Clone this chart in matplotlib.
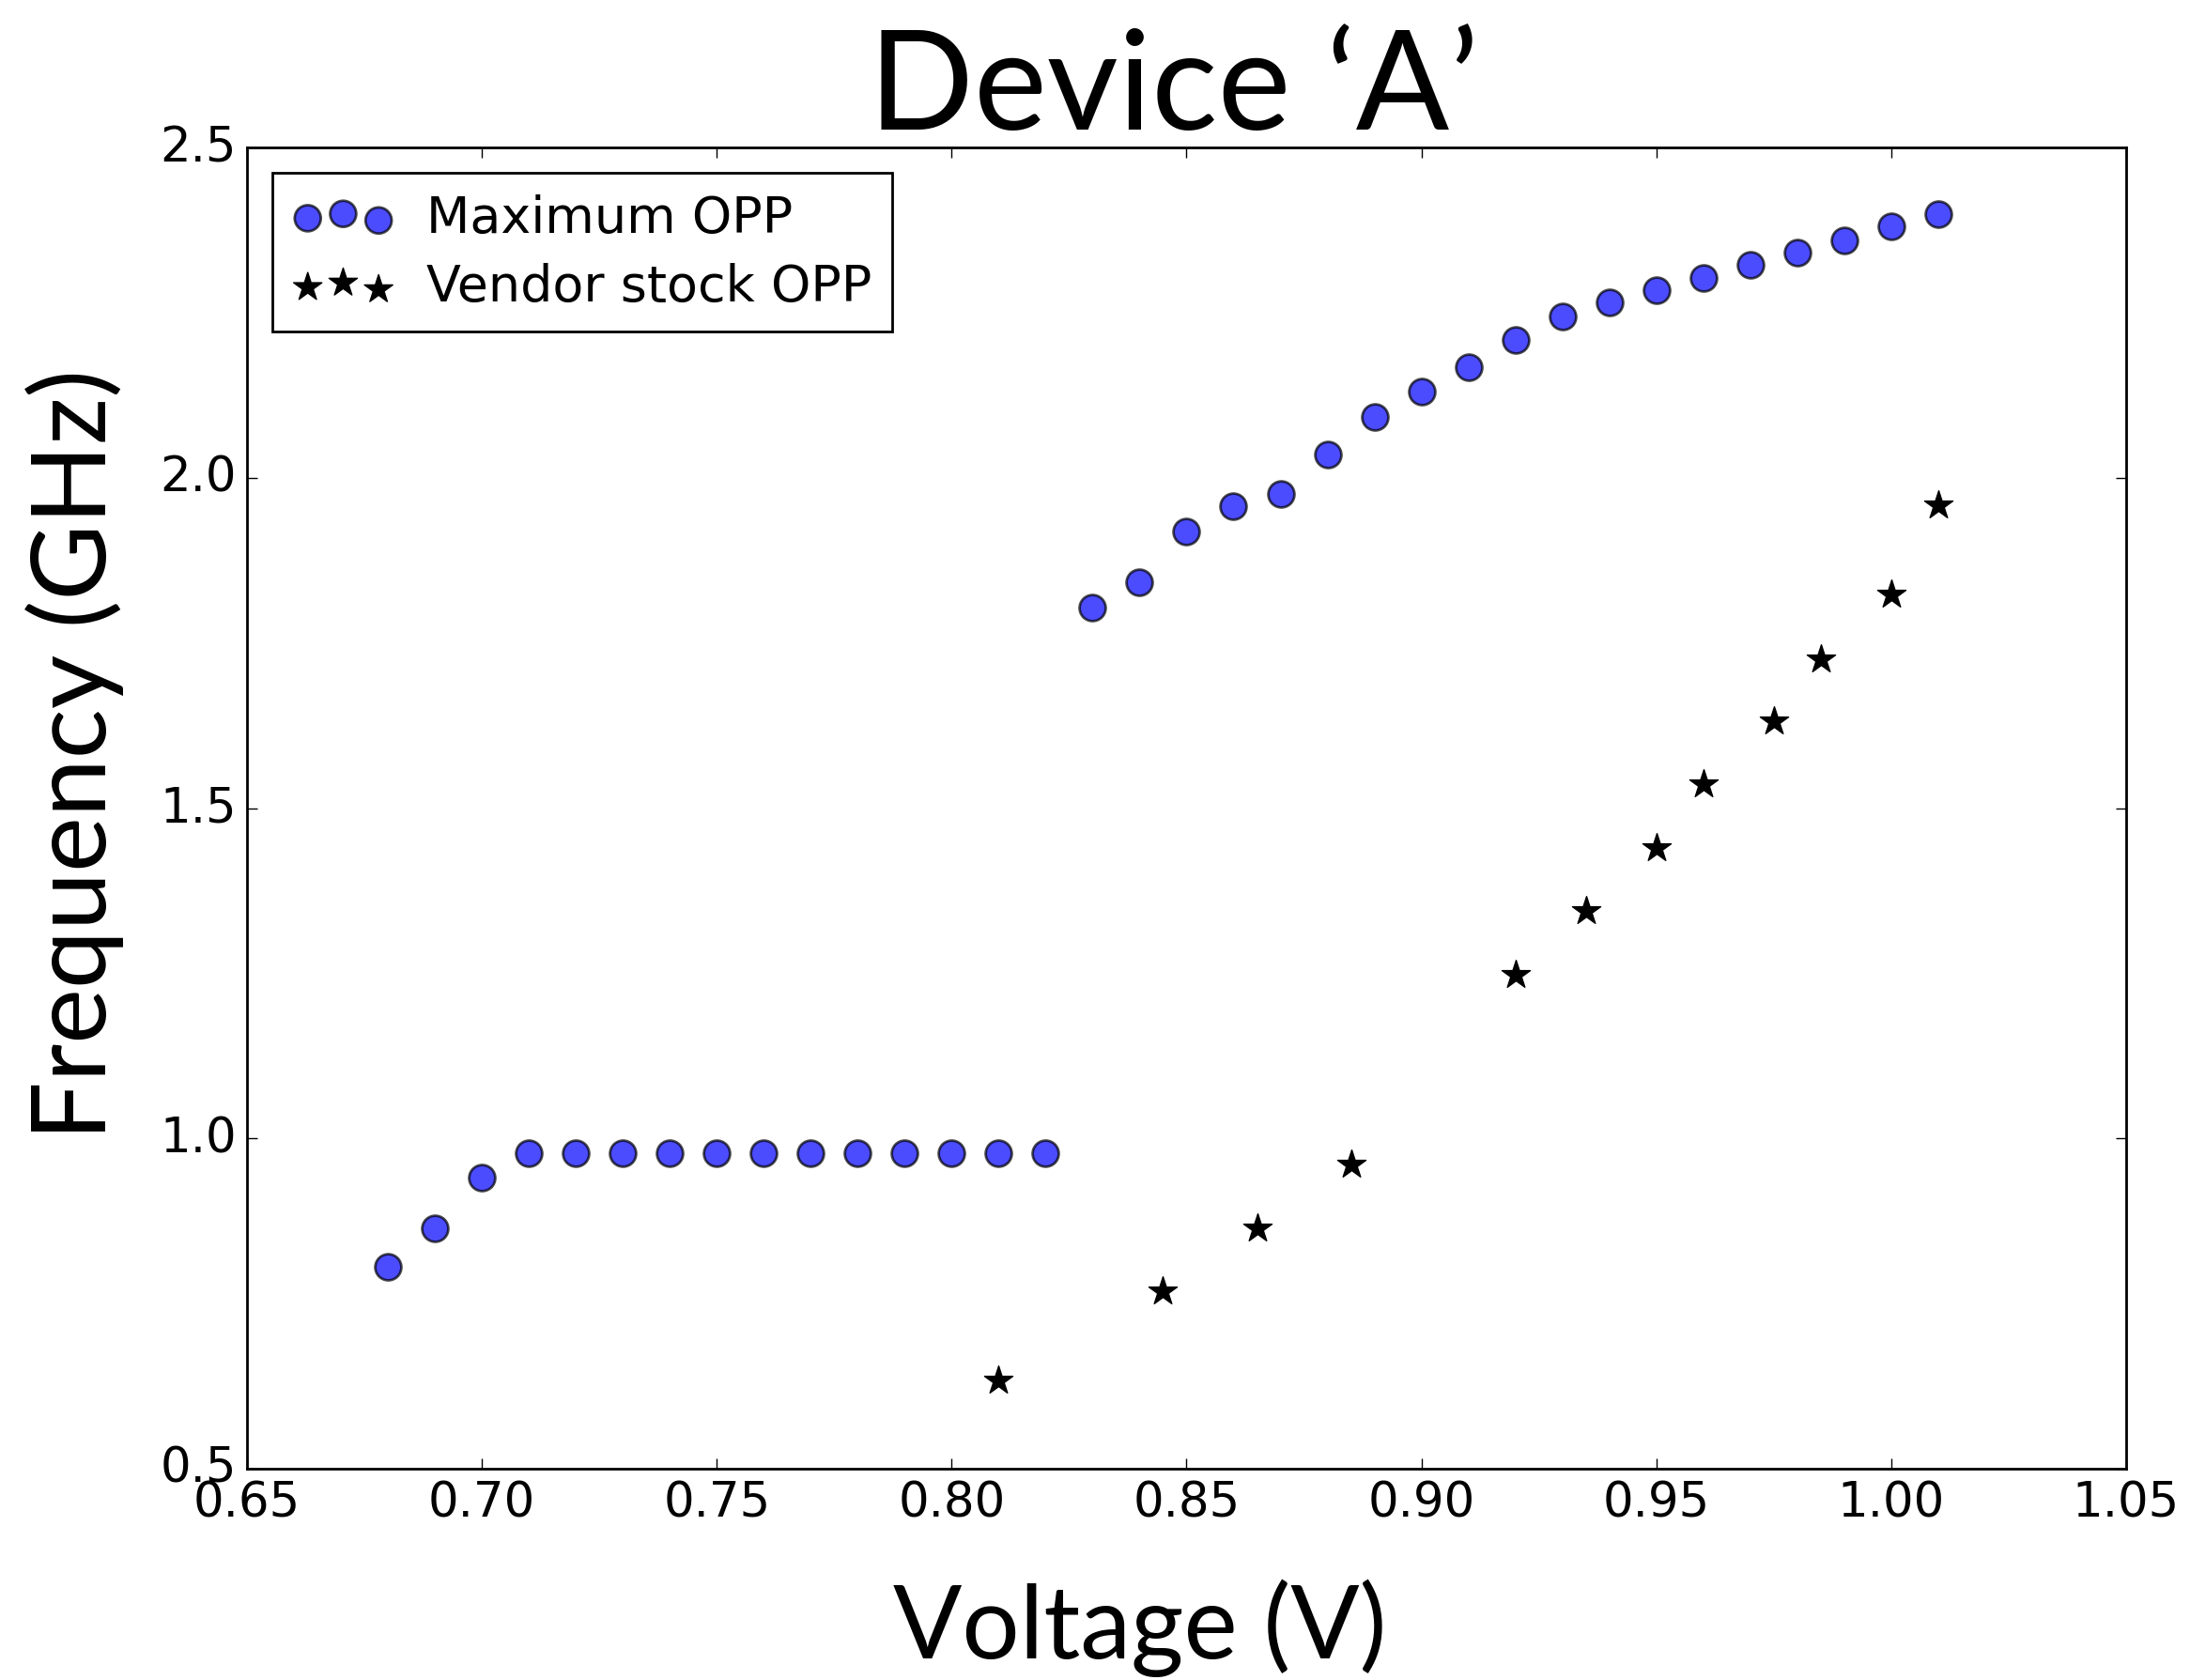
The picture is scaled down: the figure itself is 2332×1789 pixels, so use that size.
import matplotlib
matplotlib.use("Agg")
import matplotlib.pyplot as plt

max_v = [0.68, 0.69, 0.70, 0.71, 0.72, 0.73, 0.74, 0.75, 0.76, 0.77, 0.78, 0.79,
         0.80, 0.81, 0.82, 0.83, 0.84, 0.85, 0.86, 0.87, 0.88, 0.89, 0.90, 0.91,
         0.92, 0.93, 0.94, 0.95, 0.96, 0.97, 0.98, 0.99, 1.00, 1.01]
max_f = [0.806, 0.864, 0.940, 0.978, 0.978, 0.978, 0.978, 0.978, 0.978, 0.978,
         0.978, 0.978, 0.978, 0.978, 0.978, 1.804, 1.842, 1.919, 1.957, 1.976,
         2.035, 2.092, 2.130, 2.168, 2.208, 2.244, 2.265, 2.284, 2.303, 2.322,
         2.341, 2.360, 2.380, 2.399]

stock_v = [0.81, 0.845, 0.865, 0.885, 0.92, 0.935, 0.95, 0.96, 0.975, 0.985, 1.00, 1.01]
stock_f = [0.633, 0.768, 0.864, 0.961, 1.248, 1.344, 1.439, 1.536, 1.631, 1.726, 1.823, 1.959]

x_ticks = [0.65, 0.70, 0.75, 0.80, 0.85, 0.90, 0.95, 1.00, 1.05]
y_ticks = [0.5, 1.0, 1.5, 2.0, 2.5]

plt.style.use("classic")
plt.rcParams["font.family"] = ["DejaVu Sans"]

fig = plt.figure(figsize=(11.66, 8.95), dpi=200, facecolor="white")
ax = fig.add_axes([0.1128, 0.1257, 0.858, 0.786])

ax.scatter(max_v, max_f, s=100, c="b", alpha=0.7, edgecolors="k", linewidths=1.0,
           label="Maximum OPP", zorder=3)
ax.scatter(stock_v, stock_f, s=130, c="k", marker="*", edgecolors="k", linewidths=0.5,
           label="Vendor stock OPP", zorder=3)

ax.set_xlim(0.65, 1.05)
ax.set_ylim(0.5, 2.5)
ax.set_xticks(x_ticks)
ax.set_yticks(y_ticks)
ax.set_xticklabels([f"{v:.2f}" for v in x_ticks])
ax.set_yticklabels([f"{v:.1f}" for v in y_ticks])
ax.tick_params(labelsize=18.5, direction="in", length=4, top=True, right=True)

leg = ax.legend(loc="upper left", scatterpoints=3, fontsize=19.4, frameon=True,
                fancybox=False, borderaxespad=0.5, handletextpad=0.65,
                labelspacing=0.4, borderpad=0.4)
leg.get_frame().set_edgecolor("k")

tfont = ["Lato", "DejaVu Sans"]
fig.text(0.536, 0.9229, "Device \u2018A\u2019", ha="center", va="baseline",
         fontsize=53, family=tfont)
fig.text(0.5206, 0.0313, "Voltage (V)", ha="center", va="center",
         fontsize=39, family=tfont)
fig.text(0.0339, 0.5514, "Frequency (GHz)", ha="center", va="center",
         rotation=90, fontsize=40, family=tfont)

fig.savefig("out.png", dpi=200, facecolor="white")
